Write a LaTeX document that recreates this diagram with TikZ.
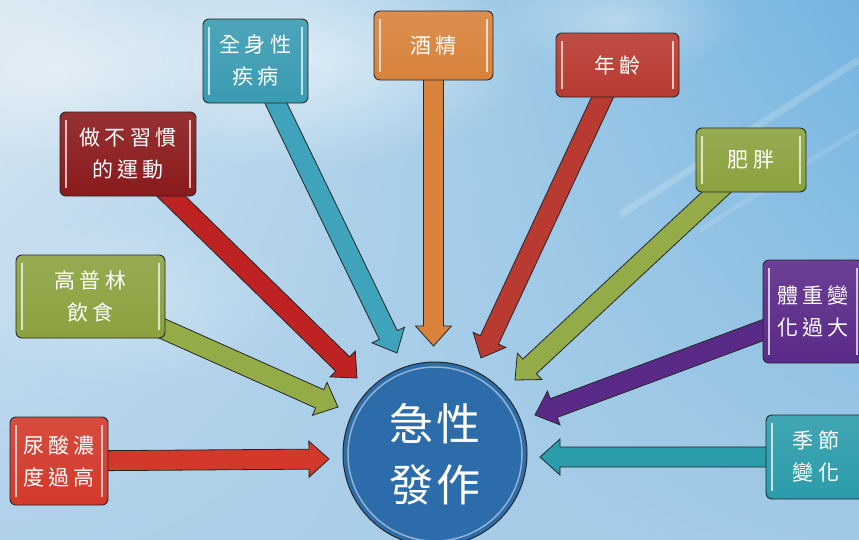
\documentclass[tikz,border=0pt]{standalone}
\usepackage{fontspec}
\newfontfamily\cjk[LetterSpace=20]{Noto Sans CJK TC}
\newfontfamily\cjkbig[LetterSpace=8]{Noto Sans CJK TC}
\usetikzlibrary{calc,fadings,shadings}
\pgfdeclarelayer{bg}\pgfdeclarelayer{arr}
\pgfsetlayers{bg,arr,main}
\tikzfading[name=softfade, inner color=transparent!0, outer color=transparent!100]

\definecolor{cTealA}{HTML}{3A9BB2}
\definecolor{cTealAa}{HTML}{3FA3BC}
\definecolor{cDarkRed}{HTML}{8A1A1C}
\definecolor{cDarkRedA}{HTML}{BE2222}
\definecolor{cOrange}{HTML}{D8823C}
\definecolor{cAgeRed}{HTML}{B83A30}
\definecolor{cOlive}{HTML}{8BA23F}
\definecolor{cOliveA}{HTML}{93AC48}
\definecolor{cRed}{HTML}{D2392A}
\definecolor{cPurple}{HTML}{5A2A88}
\definecolor{cTealB}{HTML}{2B9CAA}
\definecolor{cCircle}{HTML}{2D6CAA}
\definecolor{skyUL}{HTML}{D8E7F2}
\definecolor{skyUR}{HTML}{74B4DF}
\definecolor{skyLL}{HTML}{B0D1EA}
\definecolor{skyLR}{HTML}{A0C9E6}

\tikzset{
  box/.style={draw=black!85, line width=0.9pt, rounded corners=6pt,
    top color=#1!90!white, bottom color=#1, text=white,
    font=\cjk\fontsize{21}{32}\selectfont, align=center, inner sep=0pt,
    path picture={
      \draw[white, opacity=.7, line width=1.2pt]
        ([xshift=6pt,yshift=-8pt]path picture bounding box.north west) --
        ([xshift=6pt,yshift=8pt]path picture bounding box.south west);
      \draw[white, opacity=.7, line width=1.2pt]
        ([xshift=-6pt,yshift=-8pt]path picture bounding box.north east) --
        ([xshift=-6pt,yshift=8pt]path picture bounding box.south east);
    }},
  arrowline/.style={draw=black!85, line width=0.8pt, line join=miter},
  cloud/.style={fill=white, path fading=softfade},
}

\newcommand\fatarrow[3]{%
  \coordinate (fa-h) at ($(#2)!20pt!(#1)$);
  \draw[arrowline, fill=#3]
    ($(#1)!10pt!90:(#2)$) -- ($(fa-h)!10pt!90:(#2)$) --
    ($(fa-h)!18pt!90:(#2)$) -- (#2) --
    ($(fa-h)!18pt!-90:(#2)$) -- ($(fa-h)!10pt!-90:(#2)$) --
    ($(#1)!10pt!-90:(#2)$) -- cycle;
}

\begin{document}
\begin{tikzpicture}[x=1pt,y=-1pt]
\clip (0,0) rectangle (859,539);

% background sky
\begin{pgfonlayer}{bg}
\shade[upper left=skyUL, upper right=skyUR, lower left=skyLL, lower right=skyLR]
  (0,0) rectangle (859,539);
\fill[cloud, opacity=.55] (300,60) ellipse (230 and 110);
\fill[cloud, opacity=.45] (60,70) ellipse (150 and 100);
\fill[cloud, opacity=.35] (620,20) ellipse (120 and 60);
\fill[cloud, opacity=.25] (130,300) ellipse (170 and 90);
\draw[white, opacity=.18, line width=7pt] (620,215) -- (859,60);
\draw[white, opacity=.12, line width=5pt] (700,230) -- (859,130);
\end{pgfonlayer}

% nodes
\node[box=cTealA, minimum width=105pt, minimum height=84pt] (qsx) at (255.5,61) {全身性\\疾病};
\node[box=cDarkRed, minimum width=136pt, minimum height=84pt] (zbx) at (128,154) {做不習慣\\的運動};
\node[box=cOrange, minimum width=119pt, minimum height=69pt] (jj) at (433.5,45.5) {酒精};
\node[box=cAgeRed, minimum width=123pt, minimum height=64pt] (nl) at (617.5,65) {年齡};
\node[box=cOlive, minimum width=110pt, minimum height=64pt] (fp) at (751,160) {肥胖};
\node[box=cOlive, minimum width=149pt, minimum height=83pt] (gpl) at (90.5,296.5) {高普林\\飲食};
\node[box=cRed, minimum width=98pt, minimum height=88pt] (ns) at (59,461) {尿酸濃\\度過高};
\node[box=cPurple, minimum width=100pt, minimum height=103pt] (tz) at (813,311.5) {體重變\\化過大};
\node[box=cTealB, minimum width=100pt, minimum height=84pt] (jjb) at (816,457) {季節\\變化};

\node[circle, minimum size=184pt, inner sep=0pt, draw=black!85, line width=1pt,
      fill=cCircle, text=white, align=center,
      font=\cjkbig\fontsize{44}{61}\selectfont] (c) at (435,454) {急性\\發作};
\draw[white!60!cCircle, line width=1.5pt, opacity=.8] (c.center) circle (87);

% arrow tips
\coordinate (t1) at (329,459);
\coordinate (t2) at (338,407);
\coordinate (t3) at (357,378);
\coordinate (t4) at (397,353);
\coordinate (t5) at (433.5,346);
\coordinate (t6) at (481,358);
\coordinate (t7) at (515,380);
\coordinate (t8) at (535,415);
\coordinate (t9) at (540,457);

\begin{pgfonlayer}{arr}
\fatarrow{ns}{t1}{cRed}
\fatarrow{gpl}{t2}{cOliveA}
\fatarrow{zbx}{t3}{cDarkRedA}
\fatarrow{qsx}{t4}{cTealAa}
\fatarrow{jj}{t5}{cOrange}
\fatarrow{nl}{t6}{cAgeRed}
\fatarrow{fp}{t7}{cOliveA}
\fatarrow{tz}{t8}{cPurple}
\fatarrow{jjb}{t9}{cTealB}
\end{pgfonlayer}
\end{tikzpicture}
\end{document}
